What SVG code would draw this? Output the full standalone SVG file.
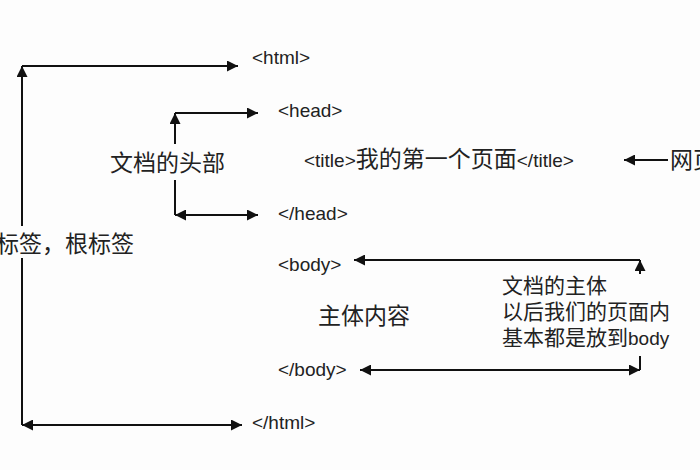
<svg xmlns="http://www.w3.org/2000/svg" width="700" height="470" viewBox="0 0 700 470">
<defs>
<marker id="a" viewBox="0 0 10 10" refX="10" refY="5" markerWidth="11" markerHeight="11" markerUnits="userSpaceOnUse" orient="auto-start-reverse"><path d="M0,0 L10,5 L0,10 z" fill="#111"/></marker>
</defs>
<style>
.t{font-family:"Liberation Sans","Noto Sans CJK SC",sans-serif;font-size:19px;fill:#222}
.c{font-family:"Noto Sans CJK SC",sans-serif;font-size:23px;fill:#222}
.b{font-family:"Noto Sans CJK SC",sans-serif;font-size:21px;fill:#222}
.l{stroke:#111;stroke-width:2;fill:none}
</style>
<rect width="700" height="470" fill="#fdfdfd"/>
<g id="connectors">
<path class="l" d="M22,226 V66" marker-end="url(#a)"/>
<path class="l" d="M22,66 H238" marker-end="url(#a)"/>
<path class="l" d="M22,258 V425"/>
<path class="l" d="M22,425 H242" marker-start="url(#a)" marker-end="url(#a)"/>
<path class="l" d="M175,144 V113" marker-end="url(#a)"/>
<path class="l" d="M175,113 H258" marker-end="url(#a)"/>
<path class="l" d="M175,180 V215"/>
<path class="l" d="M175,215 H258" marker-start="url(#a)" marker-end="url(#a)"/>
<path class="l" d="M668,160 H624" marker-end="url(#a)"/>
<path class="l" d="M640,260 H354" marker-end="url(#a)"/>
<path class="l" d="M640,260 V274" marker-start="url(#a)"/>
<path class="l" d="M640,356 V370"/>
<path class="l" d="M360,370 H640" marker-start="url(#a)" marker-end="url(#a)"/>
</g>
<g id="html"><text class="t" x="252" y="64">&lt;html&gt;</text></g>
<g id="head"><text class="t" x="278" y="117">&lt;head&gt;</text></g>
<g id="title"><text class="t" x="304" y="167">&lt;title&gt;<tspan class="c">我的第一个页面</tspan>&lt;/title&gt;</text></g>
<g id="headend"><text class="t" x="278" y="220">&lt;/head&gt;</text></g>
<g id="body"><text class="t" x="278" y="271">&lt;body&gt;</text></g>
<g id="bodyend"><text class="t" x="278" y="376">&lt;/body&gt;</text></g>
<g id="htmlend"><text class="t" x="252" y="429">&lt;/html&gt;</text></g>
<g id="root-label"><text class="c" x="-4" y="252">标签，根标签</text></g>
<g id="head-label"><text class="c" x="110" y="171">文档的头部</text></g>
<g id="page-label"><text class="c" x="670" y="168">网页</text></g>
<g id="content-label"><text class="c" x="318" y="324">主体内容</text></g>
<g id="body-label">
<text class="b" x="502" y="293">文档的主体</text>
<text class="b" x="502" y="319">以后我们的页面内</text>
<text class="b" x="502" y="345">基本都是放到<tspan class="t">body</tspan></text>
</g>
</svg>
